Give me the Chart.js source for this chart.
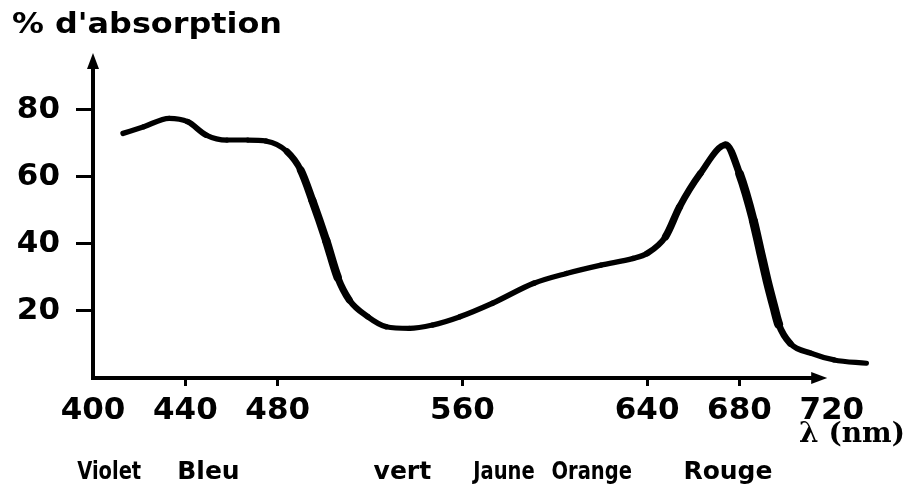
<!DOCTYPE html>
<html>
<head>
<meta charset="utf-8">
<script src="https://cdn.jsdelivr.net/npm/chart.js@4.4.0/dist/chart.umd.min.js"></script>
<style>
  html, body { margin: 0; padding: 0; background: #fff; }
  #wrap { width: 909px; height: 487px; position: relative; }
</style>
</head>
<body>
<div id="wrap"><canvas id="myChart"></canvas></div>
<script>
// spectre d'absorption
const wavelengths = [413, 422, 433, 441, 449, 458, 467, 475, 484, 490, 495, 501, 506, 511, 519, 527, 537, 547, 559, 573, 591, 605, 620, 634, 640, 648, 654, 663, 674, 680, 686, 689, 692, 695, 697, 702, 711, 721, 735];
const absorption  = [73, 75, 77.5, 76.5, 72.5, 71, 71, 70.7, 67.6, 62, 53, 41, 30, 23.3, 18.3, 15.3, 14.8, 15.8, 18.3, 22.3, 28.3, 31.2, 33.7, 35.7, 37.2, 42.2, 51, 61, 69.6, 61, 47, 38, 29, 21, 16, 10.3, 7.4, 5.4, 4.4];

const xTicks = [400, 440, 480, 560, 640, 680, 720];
const yTicks = [20, 40, 60, 80];

const bandNames   = ['Violet', 'Bleu', 'vert', 'Jaune', 'Orange', 'Rouge'];
const bandCenters = [407, 450, 534, 578, 616, 675];

const narrow = { 'Violet': 0.78, 'Jaune': 0.78, 'Orange': 0.78 };

// axes fléchés + textes
const extras = {
    id: 'extras',
    afterDraw(chart) {
        const c = chart.ctx;
        const xs = chart.scales.x, ys = chart.scales.y;
        const x0 = xs.left, y0 = ys.bottom;
        const yTop = ys.top;
        const xEnd = xs.getPixelForValue(718);
        c.save();
        c.strokeStyle = '#000';
        c.fillStyle = '#000';
        c.lineWidth = 4;
        c.beginPath();
        c.moveTo(x0, y0 + 2);
        c.lineTo(x0, yTop + 10);
        c.moveTo(x0 - 2, y0);
        c.lineTo(xEnd - 10, y0);
        c.stroke();
        // flèche y
        c.beginPath();
        c.moveTo(x0, yTop);
        c.lineTo(x0 - 6, yTop + 16);
        c.lineTo(x0 + 6, yTop + 16);
        c.closePath();
        c.fill();
        // flèche x
        c.beginPath();
        c.moveTo(xEnd, y0);
        c.lineTo(xEnd - 16, y0 - 6);
        c.lineTo(xEnd - 16, y0 + 6);
        c.closePath();
        c.fill();

        // titre
        c.textBaseline = 'alphabetic';
        c.textAlign = 'left';
        c.font = 'bold 28px "DejaVu Sans"';
        const t = "% d'absorption";
        const sx = 270 / c.measureText(t).width;
        c.save();
        c.translate(12, 33);
        c.scale(sx, 1);
        c.fillText(t, 0, 0);
        c.restore();

        // unité
        c.font = 'bold 28px "DejaVu Serif"';
        c.textAlign = 'center';
        c.fillText('λ (nm)', 852, 442);

        // couleurs
        c.font = 'bold 25px "DejaVu Sans"';
        bandNames.forEach((name, i) => {
            const px = xs.getPixelForValue(bandCenters[i]);
            c.save();
            c.translate(px, 479);
            c.scale(narrow[name] || 1, 1);
            c.fillText(name, 0, 0);
            c.restore();
        });
        c.restore();
    }
};

const tickFont = { family: 'DejaVu Sans', weight: 'bold', size: 31 };

// trait plus épais dans les parties raides, comme sur la figure
const segWidth = ctx => {
    const dx = ctx.p1.parsed.x - ctx.p0.parsed.x;
    const dy = ctx.p1.parsed.y - ctx.p0.parsed.y;
    const slope = Math.abs(dy / dx);
    return 5 + Math.min(4, slope * 1.6);
};

new Chart(document.getElementById('myChart'), {
    type: 'line',
    data: {
        datasets: [{
            data: wavelengths.map((w, i) => ({ x: w, y: absorption[i] })),
            borderColor: '#000',
            borderWidth: 5,
            pointRadius: 0,
            cubicInterpolationMode: 'monotone',
            borderCapStyle: 'round',
            borderJoinStyle: 'round',
            segment: { borderWidth: segWidth }
        }]
    },
    options: {
        responsive: true,
        maintainAspectRatio: false,
        animation: false,
        layout: { padding: { top: 53, right: 31, left: 0, bottom: 0 } },
        plugins: { legend: { display: false }, tooltip: { enabled: false } },
        scales: {
            x: {
                type: 'linear',
                min: 400,
                max: 740,
                afterBuildTicks: s => { s.ticks = xTicks.map(v => ({ value: v })); },
                afterFit: s => { s.height = 109; },
                border: { display: false },
                grid: {
                    drawOnChartArea: false,
                    tickLength: 8,
                    tickWidth: 3,
                    tickColor: ctx => (ctx.tick && (ctx.tick.value === 720 || ctx.tick.value === 400)) ? 'rgba(0,0,0,0)' : '#000'
                },
                ticks: { color: '#000', font: tickFont, padding: 6, maxRotation: 0, autoSkip: false }
            },
            y: {
                min: 0,
                max: 97,
                afterBuildTicks: s => { s.ticks = yTicks.map(v => ({ value: v })); },
                afterFit: s => { s.width = 93; },
                border: { display: false },
                grid: { drawOnChartArea: false, tickLength: 17, tickWidth: 3, tickColor: '#000' },
                ticks: { color: '#000', font: tickFont, padding: 16 }
            }
        }
    },
    plugins: [extras]
});
</script>
</body>
</html>
